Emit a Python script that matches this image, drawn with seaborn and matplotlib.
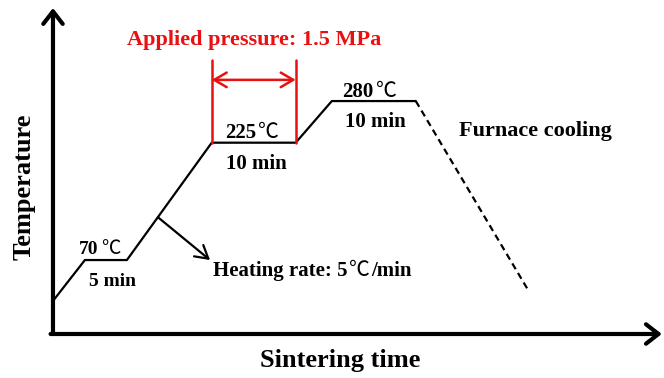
import numpy as np
import pandas as pd
import matplotlib
matplotlib.use("Agg")
import matplotlib.pyplot as plt
from matplotlib.transforms import IdentityTransform
import seaborn as sns

# schematic sintering profile (time in min, temperature in C)
heat_time = [0, 3.8, 8.8, 18.9, 28.9, 33.2, 43.2]
heat_temp = [16, 70, 70, 225, 225, 280, 280]
cool_time = [43.2, 56.7]
cool_temp = [280, 28]

hold_values = ["70", "225", "280"]
hold_times = ["5 min", "10 min", "10 min"]
pressure_text = "Applied pressure: 1.5 MPa"
rate_parts = ["Heating rate: 5", "℃", "/min"]
cool_text = "Furnace cooling"

sns.set_theme(style="white")
plt.rcParams["font.family"] = ["Liberation Serif", "Noto Sans CJK JP"]
plt.rcParams["font.weight"] = "bold"
plt.rcParams["text.color"] = "black"

RED = "#e81010"
DEG = "℃"

fig = plt.figure(figsize=(6.64, 3.78), dpi=100)
ax = fig.add_axes([0.0798, 0.1164, 0.917, 0.8624])

df_heat = pd.DataFrame({"time": heat_time, "temp": heat_temp})
df_cool = pd.DataFrame({"time": cool_time, "temp": cool_temp})
sns.lineplot(data=df_heat, x="time", y="temp", sort=False, color="black", lw=1.6, ax=ax)
sns.lineplot(data=df_cool, x="time", y="temp", sort=False, color="black", lw=1.6,
             linestyle=(0, (3, 2)), ax=ax)

ax.set_xlim(0, 72.5)
ax.set_ylim(-27.7, 402.9)
for s in ax.spines.values():
    s.set_visible(False)
ax.set_xticks([])
ax.set_yticks([])
ax.set_xlabel("")
ax.set_ylabel("")

# axis arrows
arrow_kw = dict(arrowstyle="->, head_length=0.45, head_width=0.35", lw=3, color="black",
                shrinkA=0, shrinkB=0, mutation_scale=20)
ax.annotate("", xy=(0, 1), xytext=(0, 0), xycoords="axes fraction", arrowprops=arrow_kw)
ax.annotate("", xy=(1, 0), xytext=(-0.004, 0), xycoords="axes fraction", arrowprops=arrow_kw)

ax.text(0.471, -0.045, "Sintering time", transform=ax.transAxes, ha="center", va="top",
        fontsize=19, fontweight="bold")
ax.text(-0.048, 0.451, "Temperature", transform=ax.transAxes, ha="center", va="center",
        rotation=90, fontsize=19, fontweight="bold")


def deg_after(txt, fs, gap=2):
    # thin Celsius sign right after a bold text, on the same baseline
    fig.canvas.draw()
    bb = txt.get_window_extent()
    x0, y0 = txt.get_transform().transform(txt.get_position())
    return ax.text(bb.x1 + gap, y0, DEG, transform=IdentityTransform(), ha="left",
                   va="baseline", fontsize=fs, fontweight="normal",
                   family=["Noto Sans CJK JP"])


# hold labels
plateaus = [(heat_time[1], heat_time[2], heat_temp[1]),
            (heat_time[3], heat_time[4], heat_temp[3]),
            (heat_time[5], heat_time[6], heat_temp[5])]
num_off = [(-5.2, 4.3), (1.8, 3.2), (0.0, 3.2)]
bot_off = [(5.0, -15.8), (2.2, -15.1), (1.4, -15.1)]
sizes = [14, 15, 15]
for (t0, t1, T), val, tm, no, bo, fs in zip(plateaus, hold_values, hold_times, num_off, bot_off, sizes):
    mid = (t0 + t1) / 2
    t = ax.annotate(val, xy=(mid, T), xytext=no, textcoords="offset points",
                    ha="right", va="baseline", fontsize=fs, fontweight="bold")
    deg_after(t, fs)
    ax.annotate(tm, xy=(mid, T), xytext=bo, textcoords="offset points",
                ha="center", va="center", fontsize=fs, fontweight="bold")

# applied pressure bracket
p0, p1 = heat_time[3], heat_time[4]
for t in (p0, p1):
    ax.plot([t, t], [heat_temp[3], 334], color=RED, lw=1.8)
ax.annotate("", xy=(p1, 308), xytext=(p0, 308),
            arrowprops=dict(arrowstyle="<->, head_length=0.6, head_width=0.35", lw=1.8,
                            color=RED, shrinkA=0, shrinkB=0, mutation_scale=15))
ax.text((p0 + p1) / 2, 361, pressure_text, color=RED, ha="center", va="center",
        fontsize=16, fontweight="bold")

# heating rate arrow
ax.annotate("", xy=(18.7, 70), xytext=(12.5, 126.5),
            arrowprops=dict(arrowstyle="->, head_length=0.6, head_width=0.35", lw=1.6,
                            color="black", shrinkA=0, shrinkB=0, mutation_scale=15))
r1 = ax.text(19.0, 49.5, rate_parts[0], ha="left", va="baseline", fontsize=15, fontweight="bold")
r2 = deg_after(r1, 15)
fig.canvas.draw()
bb = r2.get_window_extent()
y0 = r1.get_transform().transform(r1.get_position())[1]
ax.text(bb.x1 + 1, y0, rate_parts[2], transform=IdentityTransform(), ha="left",
        va="baseline", fontsize=15, fontweight="bold")

ax.text(57.4, 240.4, cool_text, ha="center", va="center", fontsize=16, fontweight="bold")

fig.savefig("out.png", dpi=100)
